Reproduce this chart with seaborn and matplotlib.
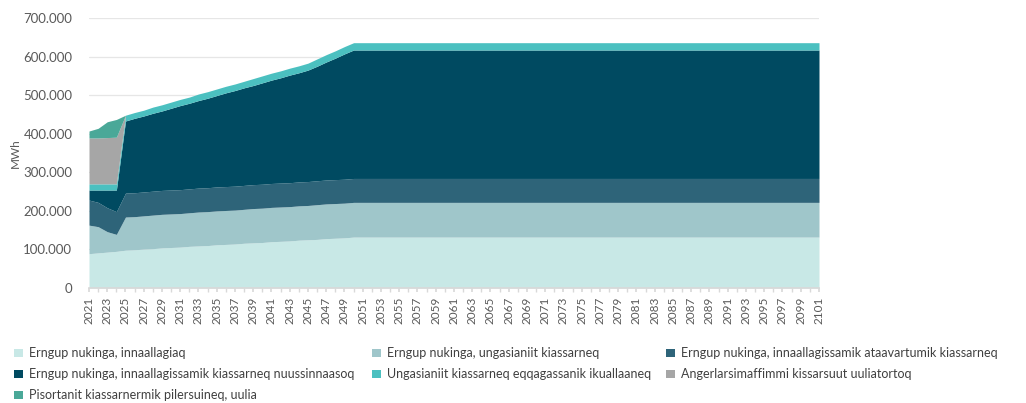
import matplotlib
matplotlib.use("Agg")
import matplotlib.pyplot as plt
from matplotlib.patches import Patch
from matplotlib.ticker import FuncFormatter, MultipleLocator
import seaborn as sns
import pandas as pd

# data (1000 MWh), 2021-2050, flat after 2050
years = list(range(2021, 2102))
n_flat = 2101 - 2050

innaallagiaq = [89, 91, 93, 95, 98, 99, 101, 102, 104, 105, 106, 108, 109, 110, 112,
                113, 114, 116, 117, 118, 120, 121, 122, 124, 125, 126, 128, 129, 130, 132] + [132] * n_flat
ungasianiit = [74, 68, 53, 44, 86, 86, 86, 87, 87, 87, 87, 87, 88, 88, 88,
               88, 88, 88, 89, 89, 89, 89, 89, 89, 89, 90, 90, 90, 90, 90] + [90] * n_flat
ataavartumik = [65, 63, 62, 59, 62, 62, 62, 62, 62, 62, 62, 62, 62, 62, 62,
                62, 62, 62, 62, 62, 62, 62, 62, 62, 62, 62, 62, 62, 62, 62] + [62] * n_flat
nuussinnaasoq = [26, 32, 46, 56, 187, 193, 197, 202, 206, 212, 218, 222, 227, 232, 237,
                 243, 248, 253, 257, 263, 268, 273, 279, 283, 289, 297, 306, 315, 325, 333] + [333] * n_flat
ikuallaaneq = [16, 16, 16, 16, 15, 15, 15, 16, 16, 16, 16, 16, 17, 17, 17,
               17, 17, 17, 18, 18, 18, 18, 18, 18, 18, 19, 19, 19, 19, 19] + [19] * n_flat
uuliatortoq = [119, 119, 120, 121, 0, 0, 0, 0, 0, 0, 0, 0, 0, 0, 0,
               0, 0, 0, 0, 0, 0, 0, 0, 0, 0, 0, 0, 0, 0, 0] + [0] * n_flat
pilersuineq = [18, 25, 41, 46, 0, 0, 0, 0, 0, 0, 0, 0, 0, 0, 0,
               0, 0, 0, 0, 0, 0, 0, 0, 0, 0, 0, 0, 0, 0, 0] + [0] * n_flat

labels = [
    "Erngup nukinga, innaallagiaq",
    "Erngup nukinga, ungasianiit kiassarneq",
    "Erngup nukinga, innaallagissamik ataavartumik kiassarneq",
    "Erngup nukinga, innaallagissamik kiassarneq nuussinnaasoq",
    "Ungasianiit kiassarneq eqqagassanik ikuallaaneq",
    "Angerlarsimaffimmi kissarsuut uuliatortoq",
    "Pisortanit kiassarnermik pilersuineq, uulia",
]
colors = ["#c8e8e6", "#9fc6ca", "#2e6479", "#004a61", "#4bc0c0", "#a6a6a6", "#4aa898"]

df = pd.DataFrame({
    labels[0]: innaallagiaq, labels[1]: ungasianiit, labels[2]: ataavartumik,
    labels[3]: nuussinnaasoq, labels[4]: ikuallaaneq, labels[5]: uuliatortoq,
    labels[6]: pilersuineq,
}, index=years) * 1000

sns.set_theme(style="white")
plt.rcParams["font.family"] = ["Lato", "DejaVu Sans"]

fig = plt.figure(figsize=(10.26, 4.03), dpi=100)
ax = fig.add_axes([89 / 1026, 1 - 288 / 403, 730 / 1026, 270 / 403])

ax.stackplot(df.index, [df[c] for c in labels], colors=colors, linewidth=0)

ax.set_xlim(2021, 2101)
ax.set_ylim(0, 700000)
ax.set_xticks(range(2021, 2102, 2))
ax.xaxis.set_minor_locator(MultipleLocator(1))
ax.yaxis.set_major_locator(MultipleLocator(100000))
ax.yaxis.set_major_formatter(FuncFormatter(lambda v, p: f"{v:,.0f}".replace(",", ".")))
ax.grid(axis="y", color="#e6e6e6", linewidth=0.9)
ax.set_axisbelow(True)
for s in ["top", "right", "left"]:
    ax.spines[s].set_visible(False)
ax.spines["bottom"].set_color("#d9d9d9")
ax.tick_params(axis="x", which="both", bottom=True, length=3, color="#d9d9d9",
               labelsize=8.5, labelcolor="#595959", labelrotation=90, pad=3)
ax.tick_params(axis="y", length=0, labelsize=9.5, labelcolor="#595959", pad=12)
ax.set_ylabel("MWh", fontsize=8.5, color="#595959", labelpad=2)

# legend in three columns, placed like the original
cols = [[0, 3, 6], [1, 4], [2, 5]]
xs = [8, 366, 660]
for idx, x in zip(cols, xs):
    handles = [Patch(facecolor=colors[i], edgecolor="none", label=labels[i]) for i in idx]
    fig.legend(handles=handles, loc="upper left", bbox_to_anchor=(x / 1026, 1 - 341 / 403),
               frameon=False, fontsize=9, handlelength=0.7, handleheight=0.7,
               handletextpad=0.5, labelspacing=0.72, borderpad=0, labelcolor="#404040")

plt.savefig("out.png", dpi=100)
